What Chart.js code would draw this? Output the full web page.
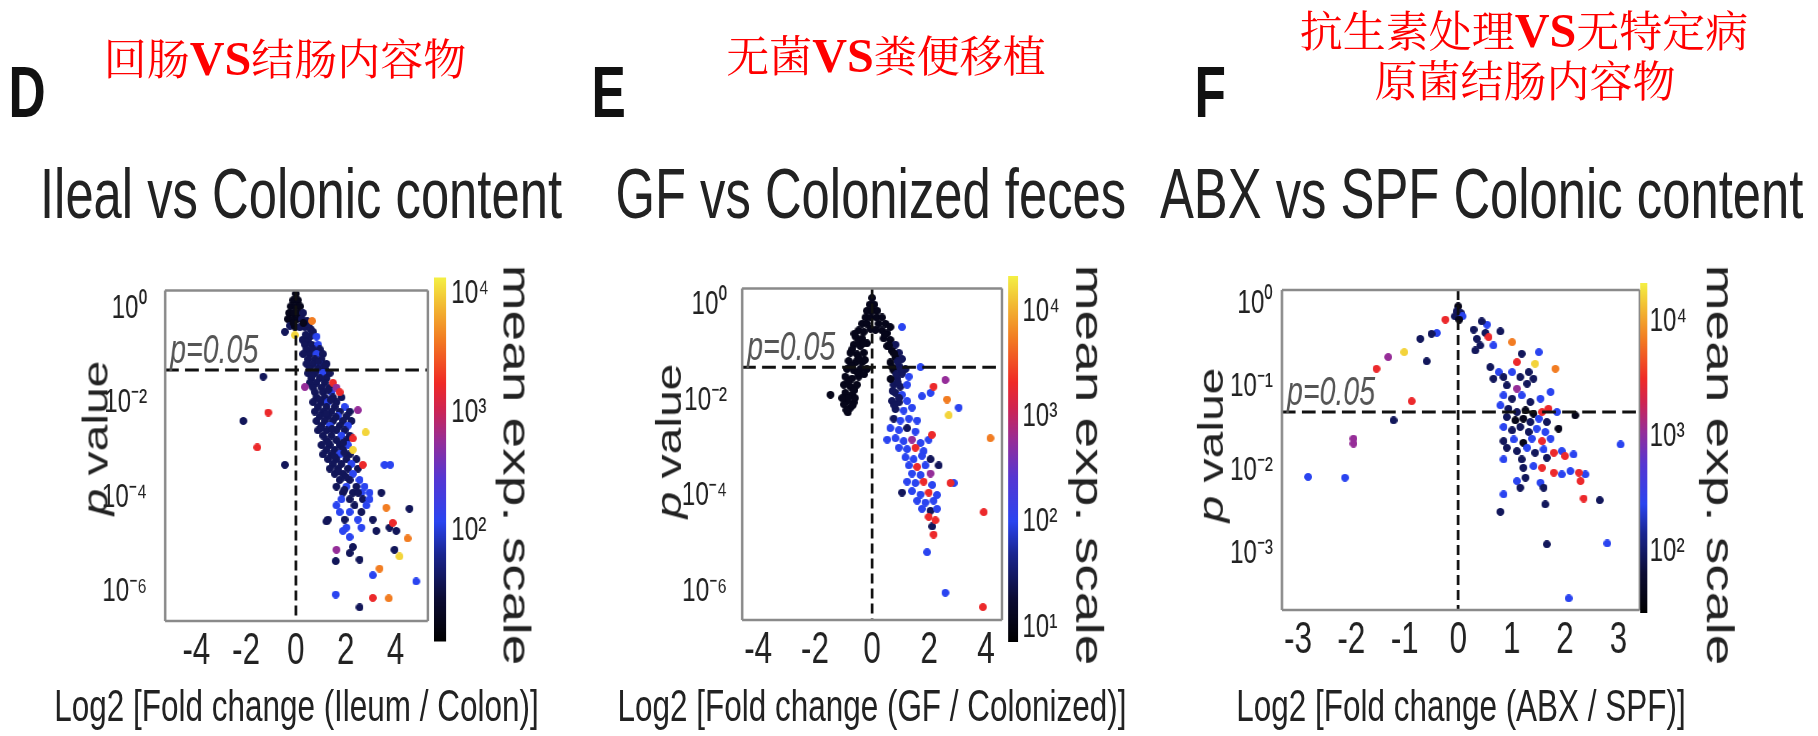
<!DOCTYPE html>
<html>
<head>
<meta charset="utf-8">
<script src="https://cdn.jsdelivr.net/npm/chart.js@4.4.1/dist/chart.umd.min.js"></script>
<style>
  html, body { margin: 0; padding: 0; background: #fff; }
  body { width: 1818px; height: 736px; overflow: hidden; position: relative; font-family: "Liberation Sans", Arial, sans-serif; }
  /* the source figure is squeezed horizontally, so the whole drawing is laid out wide and squeezed */
  #fig { position: absolute; left: 0; top: 0; width: 2543px; height: 736px; transform: scaleX(0.715); transform-origin: 0 0; }
  #fig canvas { position: absolute; }
  .t { position: absolute; white-space: nowrap; line-height: 1; color: #222; }
  .cn { position: absolute; width: 800px; text-align: center; white-space: nowrap; line-height: 1; color: #f00;
        font-size: 43px; font-family: "Noto Serif CJK SC", "Noto Sans CJK SC", serif; }
  .cn b { font-family: "Liberation Serif", "Times New Roman", serif; font-weight: bold; font-size: 1.12em; }
</style>
</head>
<body>
<div id="fig"></div>
<script>
// points: [log2 fold change, log10 p value, log10 mean expression]
const ileumColon = [
  [0,0.32,1.25],[-0.11,0.18,1.25],[0.08,0.18,1.25],[-0.2,0.05,1.25],[0,0.05,1.25],[0.17,0.05,1.25],
  [-0.27,-0.09,1.25],[-0.08,-0.09,1.25],[0.11,-0.09,1.25],[0.29,-0.09,1.58],[-0.32,-0.22,1.25],[-0.13,-0.22,1.25],
  [0.05,-0.22,1.25],[0.24,-0.22,1.58],[0.45,-0.26,1.58],[-0.24,-0.36,1.58],[-0.04,-0.38,1.25],[0.16,-0.39,1.58],
  [0.37,-0.39,1.58],[0.59,-0.43,1.58],[-0.44,-0.49,1.58],[0.69,-0.49,1.58],[0.5,-0.33,1.58],[-0.1,-0.3,1.25],[0.3,-0.3,1.25],
  [0.27,-0.66,1.58],[0.49,-0.66,1.58],[0.36,-0.76,1.58],[0.63,-0.76,1.58],[0.89,-0.76,2.08],
  [0.43,-0.86,1.58],[0.69,-0.86,1.58],[0.96,-0.86,1.58],[0.29,-0.96,1.58],[0.56,-0.96,1.58],[0.83,-0.96,2.08],[1.09,-0.96,1.58],
  [0.49,-1.07,1.58],[0.76,-1.07,1.58],[1.03,-1.07,1.58],[0.43,-1.17,1.58],[0.69,-1.17,1.58],[0.96,-1.17,2.08],[1.23,-1.17,1.58],
  [0.56,-1.27,1.58],[0.89,-1.27,1.58],[1.16,-1.27,1.58],[0.49,-1.37,1.58],[0.76,-1.37,1.58],[1.09,-1.37,2.08],[1.36,-1.37,1.58],
  [0.63,-1.47,1.58],[0.96,-1.47,1.58],[1.23,-1.47,1.58],[0.56,-1.57,1.58],[0.83,-1.57,1.58],[1.16,-1.57,1.58],
  [0.69,-1.67,1.58],[1.03,-1.67,1.58],[1.36,-1.67,1.58],[0.76,-1.77,1.58],[1.09,-1.77,1.58],[1.43,-1.77,2.08],
  [0.83,-1.88,1.58],[1.16,-1.88,1.58],[1.49,-1.88,1.58],[1.83,-1.88,1.58],[0.69,-1.98,1.58],[1.03,-1.98,1.58],[1.29,-1.98,2.08],[1.63,-1.98,1.58],
  [0.89,-2.08,1.58],[1.23,-2.08,1.58],[1.56,-2.08,1.58],[1.96,-2.08,2.08],[0.76,-2.18,1.58],[1.09,-2.18,1.58],[1.43,-2.18,1.58],[1.76,-2.18,1.58],[2.16,-2.18,1.58],
  [0.96,-2.28,1.58],[1.29,-2.28,1.58],[1.69,-2.28,2.08],[2.03,-2.28,1.58],[0.83,-2.38,1.58],[1.16,-2.38,1.58],[1.49,-2.38,1.58],[1.89,-2.38,1.58],[2.23,-2.38,1.58],
  [1.03,-2.48,1.58],[1.36,-2.48,2.08],[1.76,-2.48,1.58],[2.09,-2.48,2.08],[0.89,-2.58,1.58],[1.23,-2.58,1.58],[1.63,-2.58,1.58],[1.96,-2.58,1.58],
  [1.09,-2.69,1.58],[1.43,-2.69,1.58],[1.83,-2.69,2.08],[2.16,-2.69,1.58],[1.23,-2.79,1.58],[1.63,-2.79,1.58],[2.03,-2.79,1.58],
  [1.03,-2.89,1.58],[1.36,-2.89,1.58],[1.76,-2.89,1.58],[2.09,-2.89,2.08],[1.23,-2.99,1.58],[1.56,-2.99,1.58],[1.89,-2.99,1.58],
  [1.09,-3.09,1.58],[1.43,-3.09,1.58],[1.76,-3.09,2.08],[2.16,-3.09,1.58],[1.29,-3.19,1.58],[1.63,-3.19,1.58],[2.03,-3.19,1.58],[2.43,-3.19,1.58],
  [1.49,-3.29,1.58],[1.83,-3.29,1.58],[2.23,-3.29,2.08],[1.36,-3.39,1.58],[1.69,-3.39,1.58],[2.09,-3.39,1.58],[2.49,-3.39,1.58],
  [1.56,-3.5,1.58],[1.89,-3.5,1.58],[2.29,-3.5,2.08],[1.76,-3.63,1.58],[2.16,-3.63,1.58],[2.56,-3.63,2.08],
  [1.63,-3.77,1.58],[2.03,-3.77,2.08],[2.43,-3.77,1.58],[2.76,-3.77,2.08],[1.89,-3.9,1.58],[2.29,-3.9,1.58],[2.63,-3.9,2.08],[2.96,-3.9,2.08],
  [1.83,-4.04,2.08],[2.16,-4.04,1.58],[2.69,-4.04,1.58],[2.96,-4.04,2.08],[1.63,-4.17,2.08],[2.36,-4.17,1.58],[2.83,-4.17,2.08],
  [1.76,-4.31,2.08],[2.16,-4.31,2.08],[2.63,-4.31,1.58],[1.29,-4.47,1.58],[1.96,-4.47,1.58],[2.49,-4.47,2.08],[3.09,-4.47,1.58],
  [2.03,-4.64,2.08],[2.63,-4.64,2.08],[3.76,-4.64,1.58],
  [0.6,-0.58,1.58],[0.4,-0.55,1.58],[0.9,-1.12,1.58],[1.15,-1.2,1.58],[0.65,-1.42,1.58],[1.3,-1.72,1.58],[0.95,-1.93,1.58],
  [1.4,-1.93,1.58],[1.2,-2.23,1.58],[1.6,-2.3,1.58],[1.0,-2.53,1.58],[1.45,-2.55,1.58],[1.3,-2.84,1.58],[1.9,-2.84,1.58],
  [1.55,-3.14,1.58],[1.95,-3.05,1.58],[1.7,-3.45,1.58],[2.0,-3.56,1.58],[1.95,-3.84,1.58],[2.5,-3.9,1.58],
  [3.43,-3.9,1.58],[3.56,-3.31,2.08],[3.79,-3.31,2.08],[4.56,-4.24,1.58],[3.96,-5.11,1.58],[3.09,-5.65,2.08],[4.83,-5.78,2.08],
  [1.6,-6.06,2.08],[2.56,-6.33,1.58],[1.23,-4.51,1.58],[1.6,-5.35,1.58],[2.56,-5.32,1.58],[2.29,-5.05,1.58],[1.89,-4.71,2.08],
  [2.16,-4.84,2.08],[3.23,-4.71,1.58],[4.03,-4.71,1.58],[2.16,-5.18,1.58],
  [-2.11,-2.38,1.58],[-0.44,-3.31,1.58],[-1.31,-1.44,1.58],
  [0.65,-0.26,3.62],[-0.04,-0.56,4.02],[0.83,-0.59,2.08],[1.49,-1.57,3.22],[1.63,-1.67,2.75],[1.76,-1.77,3.22],
  [2.49,-2.15,2.75],[2.8,-2.62,4.02],[2.29,-2.75,3.22],[2.29,-2.99,4.02],[2.69,-3.31,3.22],[3.63,-4.22,3.62],[3.89,-4.54,3.22],
  [4.49,-4.87,3.62],[4.16,-5.25,4.02],[3.36,-5.51,3.62],[3.09,-6.13,3.22],[3.73,-6.14,3.62],[1.63,-5.11,2.75],
  [-1.11,-2.2,3.22],[-1.55,-2.94,3.22],[0.36,-1.66,2.75]
];

const gfColonized = [
  [0,0.15,1.07],[-0.08,0.01,1.07],[0.08,0.01,1.07],[-0.18,-0.12,1.07],[0,-0.12,1.07],[0.18,-0.12,1.07],
  [-0.23,-0.26,1.07],[-0.06,-0.26,1.07],[0.15,-0.26,1.07],[0.35,-0.26,1.07],[-0.35,-0.39,1.07],[-0.18,-0.39,1.07],
  [0.23,-0.39,1.07],[0.47,-0.39,1.07],[0.64,-0.46,1.07],[-0.05,-0.5,1.07],[0.12,-0.52,1.07],
  [-0.47,-0.53,1.07],[-0.29,-0.56,1.07],[-0.58,-0.66,1.07],[-0.35,-0.7,1.07],[-0.64,-0.83,1.07],[-0.41,-0.86,1.07],
  [-0.18,-0.8,1.07],[-0.76,-1,1.07],[-0.53,-1.03,1.07],[-0.29,-1,1.07],[-0.82,-1.17,1.07],[-0.58,-1.2,1.07],[-0.35,-1.2,1.07],
  [-0.88,-1.34,1.07],[-0.64,-1.37,1.07],[-0.41,-1.34,1.07],[-0.18,-1.34,1.07],[-0.94,-1.5,1.07],[-0.7,-1.54,1.07],[-0.47,-1.5,1.07],
  [-0.99,-1.67,1.07],[-0.76,-1.71,1.07],[-0.53,-1.67,1.07],[-0.94,-1.84,1.07],[-0.7,-1.88,1.07],[-0.88,-2.01,1.07],
  [-0.64,-2.04,1.07],[-0.99,-2.08,1.07],[-0.76,-2.15,1.07],[-1.46,-1.88,1.07],[-0.85,-2.25,1.07],
  [-0.62,-0.6,1.07],[-0.45,-0.76,1.07],[-0.7,-0.93,1.07],[-0.47,-1.1,1.07],[-0.72,-1.27,1.07],[-0.5,-1.42,1.07],
  [-0.82,-1.6,1.07],[-0.62,-1.78,1.07],[-0.84,-1.94,1.07],[-0.6,-1.95,1.07],[-1.05,-1.95,1.07],[-0.9,-2.2,1.07],
  [-0.68,-2.1,1.07],[-0.3,-0.8,1.07],[-0.25,-1.15,1.07],[-0.28,-1.45,1.07],
  [0.35,-0.53,1.07],[0.53,-0.59,1.07],[0.41,-0.7,1.07],[0.64,-0.73,1.07],[0.82,-0.83,1.45],[0.53,-0.86,1.07],[0.7,-0.96,1.07],
  [0.94,-1,1.45],[0.82,-1.1,1.07],[1.05,-1.13,1.45],[0.64,-1.2,1.07],[0.94,-1.27,1.45],[1.17,-1.34,1.45],[0.76,-1.37,1.07],
  [1.05,-1.44,1.45],[0.88,-1.54,1.45],[1.29,-1.5,2.01],[0.76,-1.67,1.45],[0.99,-1.71,1.45],[1.23,-1.67,2.01],[0.82,-1.84,1.45],
  [1.05,-1.88,2.01],[0.7,-2.01,1.45],[0.94,-2.04,1.45],[1.23,-2.01,2.01],[0.82,-2.18,1.45],[1.11,-2.21,2.01],[1.4,-2.15,2.01],
  [0.45,-0.62,1.07],[0.6,-0.85,1.07],[0.78,-1.02,1.07],[0.9,-1.18,1.45],[0.7,-1.3,1.07],[1.0,-1.35,1.45],[0.85,-1.45,1.45],
  [0.65,-1.55,1.07],[0.9,-1.62,1.45],[0.72,-1.8,1.45],[0.95,-1.95,1.45],[0.78,-2.1,1.45],
  [0.76,-2.38,1.45],[0.99,-2.42,2.01],[1.29,-2.38,2.01],[1.58,-2.42,2.01],[0.64,-2.58,2.01],[0.94,-2.62,2.01],[1.23,-2.58,1.45],
  [1.52,-2.65,2.01],[0.53,-2.82,2.01],[0.82,-2.79,2.01],[1.11,-2.85,2.01],[1.7,-2.89,2.01],[1.99,-2.82,2.01],
  [0.94,-2.99,2.01],[1.23,-3.02,2.01],[1.81,-3.06,2.01],[1.17,-3.19,2.01],[1.46,-3.23,2.01],[1.75,-3.16,2.01],[2.05,-3.23,1.45],
  [1.29,-3.36,2.01],[1.87,-3.36,2.01],[1.4,-3.53,2.01],[1.7,-3.56,2.01],[1.23,-3.7,2.01],[1.52,-3.73,2.01],[2.11,-3.77,2.01],
  [1.4,-3.9,2.01],[1.7,-3.97,2.01],[1.58,-4.1,2.01],[1.87,-4.14,2.01],[2.16,-4.1,2.01],[1.75,-4.27,2.01],[2.05,-4.31,1.45],
  [2.28,-4.27,2.01],[2.11,-4.64,1.45],[2.28,-3.98,2.01],
  [1.05,-0.46,2.01],[1.7,-1.3,2.01],[1.75,-1.91,2.01],[2.05,-1.84,2.01],[3.04,-2.15,2.01],[2.34,-3.36,1.45],[2.87,-3.73,2.01],
  [1.05,-3.93,1.45],[1.93,-5.18,2.01],[2.57,-6.03,2.01],
  [1.4,-2.82,2.77],[1.52,-2.99,3.3],[1.58,-3.39,3.3],[2.05,-3.53,2.77],[1.81,-3.7,3.3],[1.99,-3.93,3.3],[1.99,-4.44,3.3],
  [2.22,-4.51,3.3],[2.16,-4.81,3.3],[2.57,-1.57,2.77],[2.16,-1.71,3.3],[2.63,-1.98,3.75],[2.69,-2.31,4.2],[4.15,-2.79,3.75],
  [2.1,-2.72,3.3],[2.75,-3.73,3.3],[3.92,-4.34,3.3],[3.89,-6.33,3.3]
];

const abxSpf = [
  [0,-0.03,1.64],[-0.03,-0.09,1.96],[0.05,-0.11,1.96],[0.08,-0.15,2.42],[-0.06,-0.15,1.96],[0.02,-0.19,1.64],
  [-0.4,-0.35,2.42],[-0.5,-0.36,1.96],[-0.71,-0.42,1.96],[-0.59,-0.69,1.96],[-1.21,-1.4,1.96],[-2.81,-2.08,2.42],[-2.12,-2.09,2.42],
  [0.54,-0.25,2.42],[0.51,-0.35,1.96],[0.35,-0.42,1.96],[0.41,-0.5,1.96],[0.32,-0.56,1.96],[0.79,-0.33,1.96],[0.66,-0.5,2.42],
  [0.29,-0.31,1.96],[0.44,-0.21,1.96],[1.19,-0.6,1.96],[1.51,-0.58,2.42],[0.6,-0.76,1.96],[0.76,-0.82,2.42],[0.66,-0.9,1.96],
  [0.85,-0.88,1.96],[1.01,-0.82,2.42],[1.16,-0.88,1.96],[1.32,-0.82,1.96],[0.91,-0.98,1.96],[1.29,-0.96,1.96],[1.41,-0.9,1.96],
  [0.85,-1.1,2.42],[1.01,-1.14,1.96],[1.19,-1.1,2.42],[1.35,-1.18,1.96],[1.54,-1.14,2.42],[1.73,-1.06,2.42],[0.79,-1.22,2.42],
  [0.94,-1.26,1.96],[1.1,-1.3,1.96],[1.26,-1.28,1.64],[1.41,-1.32,1.64],[1.85,-1.3,2.42],[0.91,-1.36,1.96],[1.07,-1.4,1.64],
  [1.22,-1.38,1.64],[1.35,-1.42,1.96],[1.51,-1.38,2.42],[1.66,-1.42,1.96],[2.19,-1.34,1.64],[0.85,-1.48,2.42],[1.01,-1.52,1.96],
  [1.16,-1.48,1.96],[1.32,-1.54,1.96],[1.47,-1.5,2.42],[1.63,-1.54,2.42],[1.88,-1.5,1.64],[0.85,-1.65,1.96],[1.04,-1.63,2.42],
  [1.22,-1.67,1.64],[1.38,-1.62,2.42],[1.73,-1.62,2.42],[3.04,-1.69,2.42],[0.91,-1.73,1.96],[1.1,-1.77,1.96],[1.29,-1.73,2.42],
  [1.44,-1.79,1.96],[1.6,-1.75,2.42],[1.94,-1.77,2.42],[0.85,-1.87,2.42],[1.19,-1.87,1.96],[1.66,-1.85,1.96],[2.16,-1.81,2.42],
  [1.22,-1.97,1.96],[1.41,-1.95,2.42],[1.94,-2.05,2.42],[2.1,-2.01,2.42],[2.38,-2.05,2.42],[1.1,-2.13,2.42],[1.26,-2.09,1.96],
  [1.54,-2.15,2.42],[1.16,-2.21,1.96],[1.6,-2.21,1.96],[0.85,-2.29,2.42],[2.65,-2.36,1.96],[1.63,-2.41,1.96],[0.79,-2.5,1.96],
  [1.66,-2.89,1.96],[2.79,-2.88,2.42],[2.07,-3.54,2.42],
  [-0.24,-0.19,3.48],[-1.01,-0.58,4.22],[-1.31,-0.64,3.05],[-1.53,-0.78,3.48],[-0.87,-1.17,3.48],[-1.96,-1.62,3.05],[-1.96,-1.68,3.05],
  [0.57,-0.4,3.48],[1.01,-0.46,3.85],[1.1,-0.7,3.48],[1.44,-0.72,4.22],[1.82,-0.78,3.85],[1.1,-1.02,3.05],[1.57,-1.3,3.48],
  [1.69,-1.26,3.48],[1.57,-1.65,3.48],[1.79,-1.79,3.48],[2,-1.83,3.48],[1.57,-1.97,3.48],[1.79,-2.03,3.48],[2.26,-2.03,3.48],
  [2.29,-2.13,3.48],[2.35,-2.34,3.48]
];

const xTicksD = [-4, -2, 0, 2, 4];
const xTicksE = [-4, -2, 0, 2, 4];
const xTicksF = [-3, -2, -1, 0, 1, 2, 3];
const pTicksD = [0, -2, -4, -6];      // powers of ten
const pTicksE = [0, -2, -4, -6];
const pTicksF = [0, -1, -2, -3];
const cbTicksD = [2, 3, 4];
const cbTicksE = [1, 2, 3, 4];
const cbTicksF = [2, 3, 4];
const pCut = 0.05;

const S = 0.715;
const X = v => v / S;
const FONT = '"Liberation Sans", Arial, sans-serif';

const panels = [
  { pts: ileumColon, xTicks: xTicksD, pTicks: pTicksD, cbTicks: cbTicksD,
    xr: [-5.25, 5.3], pr: [-6.62, 0.385], er: [1.06, 4.14],
    area: {l: 165, r: 428, t: 275, b: 621}, cb: {l: 434, r: 446, t: 275, b: 644}, yPad: 18, cbPad: 5,
    letter: ['D', 8.5], title: ['Ileal vs Colonic content', 40],
    xLabel: 'Log2 [Fold change (Ileum / Colon)]', pLab: [96, 438], mLab: [517, 465],
    cn: [['回肠<b>VS</b>结肠内容物', 285, 35]] },
  { pts: gfColonized, xTicks: xTicksE, pTicks: pTicksE, cbTicks: cbTicksE,
    xr: [-4.56, 4.56], pr: [-6.6, 0.35], er: [0.86, 4.34],
    area: {l: 742, r: 1002, t: 277, b: 620}, cb: {l: 1008, r: 1018, t: 275, b: 643}, yPad: 15, cbPad: 4,
    letter: ['E', 591.5], title: ['GF vs Colonized feces', 615.5],
    xLabel: 'Log2 [Fold change (GF / Colonized)]', pLab: [669, 441], mLab: [1090, 465],
    cn: [['无菌<b>VS</b>粪便移植', 886, 32]] },
  { pts: abxSpf, xTicks: xTicksF, pTicks: pTicksF, cbTicks: cbTicksF,
    xr: [-3.3, 3.4], pr: [-3.68, 0.167], er: [1.47, 4.34],
    area: {l: 1282, r: 1640, t: 287, b: 610}, cb: {l: 1640, r: 1647, t: 283, b: 613}, yPad: 9, cbPad: 2,
    letter: ['F', 1194.5], title: ['ABX vs SPF Colonic content', 1160],
    xLabel: 'Log2 [Fold change (ABX / SPF)]', pLab: [1211, 445], mLab: [1720, 465],
    cn: [['抗生素处理<b>VS</b>无特定病', 1524, 7], ['原菌结肠内容物', 1525, 57]] }
];

// black - blue - red - yellow colour scale
const CMAP = [[0, [0, 0, 0]], [0.12, [12, 12, 52]], [0.24, [26, 37, 144]], [0.33, [42, 68, 240]], [0.45, [86, 54, 210]],
  [0.55, [150, 45, 152]], [0.64, [208, 36, 80]], [0.71, [240, 42, 38]], [0.83, [242, 124, 34]], [0.92, [242, 184, 50]], [1, [244, 240, 68]]];

function cmap(t) {
  t = Math.max(0, Math.min(1, t));
  for (let i = 1; i < CMAP.length; i++) {
    if (t <= CMAP[i][0]) {
      const [t0, c0] = CMAP[i - 1], [t1, c1] = CMAP[i];
      const f = (t - t0) / (t1 - t0);
      return 'rgb(' + c0.map((c, k) => Math.round(c + (c1[k] - c) * f)).join(',') + ')';
    }
  }
  return 'rgb(' + CMAP[CMAP.length - 1][1].join(',') + ')';
}

// round dots once the layer is squeezed
const dotCache = {};
function dot(c) {
  if (dotCache[c]) return dotCache[c];
  const d = 8, cv = document.createElement('canvas');
  cv.width = Math.round(d / S); cv.height = d;
  const g = cv.getContext('2d');
  g.fillStyle = c;
  g.beginPath(); g.ellipse(cv.width / 2, d / 2, cv.width / 2, d / 2, 0, 0, Math.PI * 2); g.fill();
  return dotCache[c] = cv;
}

const SUP = {'-': '⁻', '0': '⁰', '1': '¹', '2': '²', '3': '³', '4': '⁴', '5': '⁵', '6': '⁶', '7': '⁷', '8': '⁸', '9': '⁹'};
const pow10 = v => '10' + [...String(Math.round(Math.log10(v)))].map(ch => SUP[ch]).join('');

const decor = {
  id: 'decor',
  afterDatasetsDraw(chart, args, o) {
    const {ctx, chartArea: a, scales: {x, y}} = chart;
    const yc = y.getPixelForValue(o.cut), x0 = x.getPixelForValue(0);
    ctx.save();
    ctx.strokeStyle = '#111';
    ctx.setLineDash([19, 9]); ctx.lineWidth = 3;
    ctx.beginPath(); ctx.moveTo(a.left, yc); ctx.lineTo(a.right, yc); ctx.stroke();
    ctx.setLineDash([10, 5]); ctx.lineWidth = 2.7 / S;
    ctx.beginPath(); ctx.moveTo(x0, a.top); ctx.lineTo(x0, a.bottom); ctx.stroke();
    ctx.setLineDash([]); ctx.strokeStyle = '#8a8a8a';
    ctx.lineWidth = 2.5;
    ctx.beginPath(); ctx.moveTo(a.left, a.top); ctx.lineTo(a.right, a.top);
    ctx.moveTo(a.left, a.bottom); ctx.lineTo(a.right, a.bottom); ctx.stroke();
    ctx.lineWidth = 2.5 / S;
    ctx.beginPath(); ctx.moveTo(a.left, a.top); ctx.lineTo(a.left, a.bottom);
    ctx.moveTo(a.right, a.top); ctx.lineTo(a.right, a.bottom); ctx.stroke();
    ctx.fillStyle = '#555';
    ctx.font = 'italic 40px ' + FONT;
    ctx.fillText('p=0.05', a.left + X(5), yc - o.gap);
    ctx.restore();
  }
};

const fig = document.getElementById('fig');

function text(html, css, parent) {
  const d = document.createElement('div');
  d.className = parent ? 'cn' : 't';
  d.innerHTML = html;
  Object.assign(d.style, css);
  (parent || fig).appendChild(d);
}

function cbFill(chart) {
  const a = chart.chartArea;
  if (!a) return null;
  const g = chart.ctx.createLinearGradient(0, a.bottom, 0, a.top);
  CMAP.forEach(([t, c]) => g.addColorStop(t, 'rgb(' + c.join(',') + ')'));
  return g;
}

function makeScatter(P) {
  const a = P.area, left = a.l - 75, top = a.t - 30;
  const cv = document.createElement('canvas');
  cv.width = Math.round(X(a.r - left + 4)); cv.height = 736 - top;
  cv.style.left = X(left) + 'px'; cv.style.top = top + 'px';
  fig.appendChild(cv);
  const col = e => cmap((e - P.er[0]) / (P.er[1] - P.er[0]));
  new Chart(cv, {
    type: 'scatter',
    data: { datasets: [{
      data: P.pts.map(q => ({x: q[0], y: 10 ** q[1]})),
      pointStyle: P.pts.map(q => dot(col(q[2]))),
      pointRadius: 4, pointHoverRadius: 4
    }] },
    options: {
      responsive: false, animation: false, events: [], devicePixelRatio: 1,
      layout: { padding: { top: 30, right: X(4), left: 0, bottom: 0 } },
      plugins: { legend: { display: false }, tooltip: { enabled: false }, decor: { cut: pCut, gap: 7 } },
      scales: {
        x: {
          type: 'linear', min: P.xr[0], max: P.xr[1],
          grid: { display: false, drawTicks: false }, border: { display: false },
          ticks: { font: { family: FONT, size: 44 }, color: '#222', padding: 4, autoSkip: false, maxRotation: 0 },
          afterBuildTicks: s => { s.ticks = P.xTicks.map(v => ({value: v})); },
          afterFit: s => { s.height = 736 - a.b; }
        },
        y: {
          type: 'logarithmic', min: 10 ** P.pr[0], max: 10 ** P.pr[1],
          grid: { display: false, drawTicks: false }, border: { display: false },
          ticks: { font: { family: FONT, size: 34 }, color: '#222', padding: X(P.yPad), autoSkip: false, callback: v => pow10(v) },
          afterBuildTicks: s => { s.ticks = P.pTicks.map(e => ({value: 10 ** e})); },
          afterFit: s => { s.width = X(75); }
        }
      }
    },
    plugins: [decor]
  });
}

function makeColorbar(P) {
  const c = P.cb, lo = 10 ** P.er[0], hi = 10 ** P.er[1], wAxis = X(60);
  const cv = document.createElement('canvas');
  cv.width = Math.round(X(c.r - c.l) + wAxis); cv.height = c.b - c.t + 50;
  cv.style.left = X(c.l) + 'px'; cv.style.top = (c.t - 25) + 'px';
  fig.appendChild(cv);
  new Chart(cv, {
    type: 'bar',
    data: { labels: [''], datasets: [{ data: [[lo, hi]], backgroundColor: ctx => cbFill(ctx.chart),
      borderWidth: 0, borderSkipped: false, barPercentage: 1, categoryPercentage: 1 }] },
    options: {
      responsive: false, animation: false, events: [], devicePixelRatio: 1,
      layout: { padding: { top: 25, bottom: 25, left: 0, right: 0 } },
      plugins: { legend: { display: false }, tooltip: { enabled: false } },
      scales: {
        x: { display: false },
        y: {
          type: 'logarithmic', position: 'right', min: lo, max: hi,
          grid: { display: false, drawTicks: false }, border: { display: false },
          ticks: { font: { family: FONT, size: 34 }, color: '#222', padding: X(P.cbPad), autoSkip: false, callback: v => pow10(v) },
          afterBuildTicks: s => { s.ticks = P.cbTicks.map(e => ({value: 10 ** e})); },
          afterFit: s => { s.width = wAxis; }
        }
      }
    }
  });
}

panels.forEach(P => {
  makeScatter(P);
  makeColorbar(P);
  const a = P.area;
  text(P.letter[0], { left: X(P.letter[1]) + 'px', top: '56px', fontSize: '72px', fontWeight: 'bold', color: '#111' });
  text(P.title[0], { left: X(P.title[1]) + 'px', top: '158px', fontSize: '71px' });
  text(P.xLabel, { left: X((a.l + a.r) / 2) + 'px', top: '684px', fontSize: '44px', transform: 'translateX(-50%)' });
  text('<i>p</i> value', { left: X(P.pLab[0]) + 'px', top: P.pLab[1] + 'px', fontSize: '48px',
    transform: 'translate(-50%,-50%) rotate(-90deg)' });
  text('mean exp. scale', { left: X(P.mLab[0]) + 'px', top: P.mLab[1] + 'px', fontSize: '55px',
    transform: 'translate(-50%,-50%) rotate(90deg)' });
  P.cn.forEach(([html, cx, top]) => text(html, { left: (cx - 400) + 'px', top: top + 'px' }, document.body));
});
</script>
</body>
</html>
